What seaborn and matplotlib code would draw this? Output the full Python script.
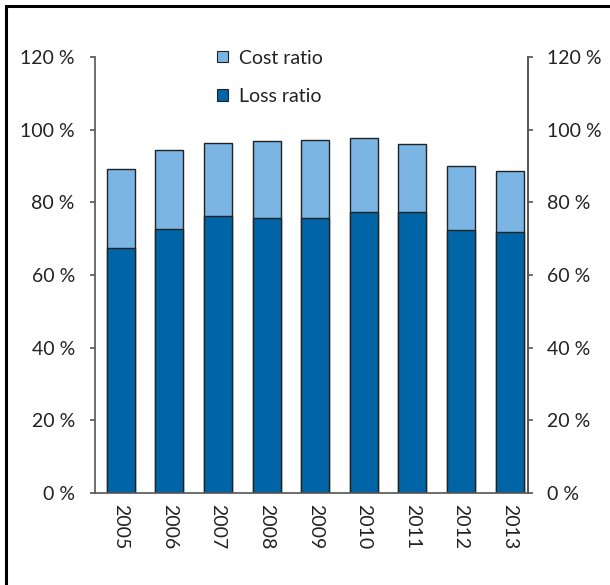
import matplotlib
matplotlib.use("Agg")
import matplotlib.pyplot as plt
import seaborn as sns
import pandas as pd
from matplotlib.patches import Patch, Rectangle

years = ["2005", "2006", "2007", "2008", "2009", "2010", "2011", "2012", "2013"]
loss_ratio = [67.5, 72.6, 76.2, 75.6, 75.6, 77.3, 77.3, 72.3, 71.8]
total_ratio = [89.1, 94.3, 96.2, 96.8, 97.1, 97.6, 96.0, 89.9, 88.6]
cost_ratio = [t - l for t, l in zip(total_ratio, loss_ratio)]
yticks = [0, 20, 40, 60, 80, 100, 120]
ytick_labels = ["0 %", "20 %", "40 %", "60 %", "80 %", "100 %", "120 %"]

loss_color = "#0065A7"
cost_color = "#7AB5E4"

sns.set_theme(style="white")
plt.rcParams["font.family"] = ["Lato", "DejaVu Sans"]

df = pd.DataFrame({"year": years, "loss": loss_ratio, "total": total_ratio, "cost": cost_ratio})

fig = plt.figure(figsize=(6.1, 5.85), dpi=100)
ax = fig.add_axes([95 / 610, 1 - 493 / 585, (528 - 95) / 610, (493 - 57) / 585])

sns.barplot(data=df, x="year", y="total", color=cost_color, width=0.576,
            edgecolor="#222222", linewidth=1.0, saturation=1, ax=ax)
sns.barplot(data=df, x="year", y="loss", color=loss_color, width=0.576,
            edgecolor="#222222", linewidth=1.0, saturation=1, ax=ax)

ax.set_xlim(-0.53, 8.38)
ax.set_ylim(0, 120)
ax.set_xlabel("")
ax.set_ylabel("")
ax.set_yticks(yticks)
ax.set_yticklabels(ytick_labels)
ax.set_xticks(range(len(years)))
ax.set_xticklabels(years, rotation=-90, fontsize=14, color="#222222")

ax.spines["top"].set_visible(False)
for s in ["left", "right", "bottom"]:
    ax.spines[s].set_color("#555555")
    ax.spines[s].set_linewidth(1.2)

ax.tick_params(axis="y", direction="out", length=3.5, width=1.2, color="#555555",
               labelsize=14, labelcolor="#222222", pad=11, left=True)
ax.tick_params(axis="x", length=0, pad=8)

ax2 = ax.twinx()
ax2.set_ylim(0, 120)
ax2.set_yticks(yticks)
ax2.set_yticklabels(ytick_labels)
ax2.tick_params(axis="y", direction="out", length=3.5, width=1.2, color="#555555",
                labelsize=14, labelcolor="#222222", pad=10, right=True)
for s in ["top", "left", "bottom"]:
    ax2.spines[s].set_visible(False)
ax2.spines["right"].set_color("#555555")
ax2.spines["right"].set_linewidth(1.2)
ax2.grid(False)

handles = [Patch(facecolor=cost_color, edgecolor="#222222", linewidth=0.8, label="Cost ratio"),
           Patch(facecolor=loss_color, edgecolor="#222222", linewidth=0.8, label="Loss ratio")]
ax.legend(handles=handles, loc="upper left", bbox_to_anchor=(200 / 610, 1 - 32 / 585),
          bbox_transform=fig.transFigure, frameon=False, fontsize=14,
          handlelength=0.55, handleheight=0.55, handletextpad=0.55, labelspacing=1.1,
          labelcolor="#222222")

# figure border (left and top visible)
fig.patches.append(Rectangle((6 / 610, -0.1), 1.2, 1.1 - 6 / 585, transform=fig.transFigure,
                             fill=False, edgecolor="black", linewidth=2.2))

fig.savefig("out.png", dpi=100)
